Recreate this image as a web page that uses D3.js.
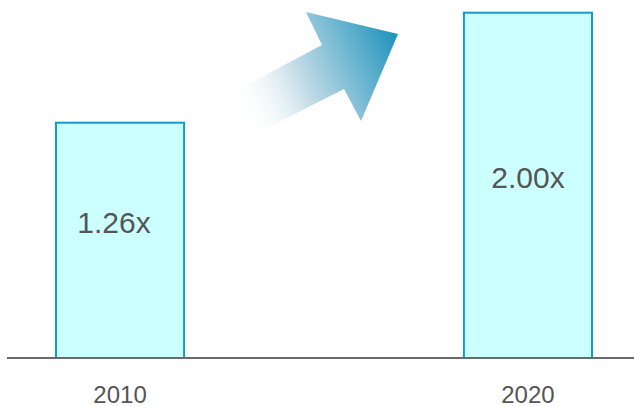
<!DOCTYPE html>
<html>
<head>
<meta charset="utf-8">
<script src="https://cdn.jsdelivr.net/npm/d3@7"></script>
<style>
  body { margin: 0; background: #fff; }
  svg { display: block; font-family: "Liberation Sans", Arial, sans-serif; }
</style>
</head>
<body>
<div id="vis"></div>
<script>
const WIDTH = 634;
const HEIGHT = 407;

// data
const years = ["2010", "2020"];
const values = [1.26, 2.00];
const labels = ["1.26x", "2.00x"];

const SVG = d3.select("#vis").append("svg")
  .attr("width", WIDTH)
  .attr("height", HEIGHT);

const BASE_Y = 358;

const escalaX = d3.scaleBand()
  .domain(years)
  .range([56, 592])
  .paddingInner(0.686)
  .paddingOuter(0);

const escalaY = d3.scaleLinear()
  .domain([-0.323, 2.0])
  .range([BASE_Y, 12.7]);

const datos = years.map((y, i) => ({ year: y, value: values[i], label: labels[i] }));

// gradient for the arrow
const defs = SVG.append("defs");
const grad = defs.append("linearGradient")
  .attr("id", "arrowGrad")
  .attr("gradientUnits", "userSpaceOnUse")
  .attr("x1", 238).attr("y1", 112)
  .attr("x2", 395).attr("y2", 40);
grad.append("stop").attr("offset", 0).attr("stop-color", "#ffffff").attr("stop-opacity", 0);
grad.append("stop").attr("offset", 0.4).attr("stop-color", "#c6dde8");
grad.append("stop").attr("offset", 1).attr("stop-color", "#2596bd");

// arrow
const arrowPts = [
  [233, 92], [322, 45], [306, 12], [398, 34],
  [361, 121], [344, 89], [255, 134]
];
SVG.append("polygon")
  .attr("points", arrowPts.map(p => p.join(",")).join(" "))
  .attr("fill", "url(#arrowGrad)");

// bars
SVG.append("g")
  .selectAll("rect")
  .data(datos)
  .join("rect")
  .attr("x", d => escalaX(d.year))
  .attr("y", d => escalaY(d.value))
  .attr("width", escalaX.bandwidth())
  .attr("height", d => BASE_Y - escalaY(d.value))
  .attr("fill", "#ccffff")
  .attr("stroke", "#0f9ccb")
  .attr("stroke-width", 2);

// value labels
SVG.append("g")
  .selectAll("text")
  .data(datos)
  .join("text")
  .attr("x", d => escalaX(d.year) + escalaX.bandwidth() / 2 - (d.value < 1.5 ? 6 : 0))
  .attr("y", d => (escalaY(d.value) + BASE_Y) / 2 + (d.value < 1.5 ? -7 : 3))
  .attr("text-anchor", "middle")
  .attr("font-size", 30)
  .attr("fill", "#555555")
  .text(d => d.label);

// baseline
SVG.append("line")
  .attr("x1", 7).attr("x2", WIDTH)
  .attr("y1", BASE_Y).attr("y2", BASE_Y)
  .attr("stroke", "#6a6a6a")
  .attr("stroke-width", 2);

// year labels
SVG.append("g")
  .selectAll("text")
  .data(datos)
  .join("text")
  .attr("x", d => escalaX(d.year) + escalaX.bandwidth() / 2)
  .attr("y", 403)
  .attr("text-anchor", "middle")
  .attr("font-size", 24)
  .attr("fill", "#555555")
  .text(d => d.year);
</script>
</body>
</html>
